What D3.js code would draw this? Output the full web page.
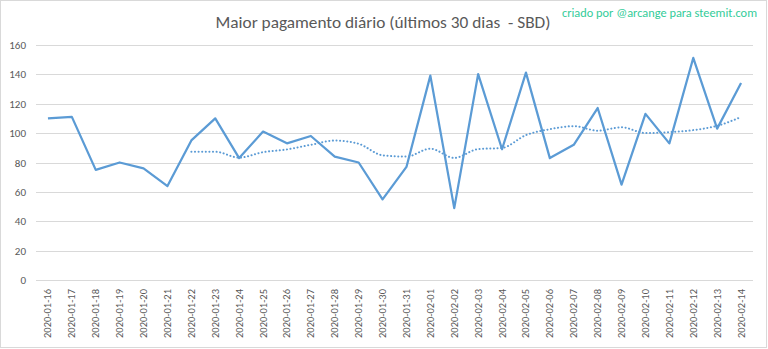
<!DOCTYPE html>
<html><head><meta charset="utf-8">
<script src="https://cdn.jsdelivr.net/npm/d3@7"></script>
<style>body{margin:0;background:#fff}svg{display:block}text{white-space:pre}</style>
</head><body>
<svg id="c" width="768" height="349"></svg>
<script>
const dates = ["2020-01-16","2020-01-17","2020-01-18","2020-01-19","2020-01-20","2020-01-21","2020-01-22","2020-01-23","2020-01-24","2020-01-25","2020-01-26","2020-01-27","2020-01-28","2020-01-29","2020-01-30","2020-01-31","2020-02-01","2020-02-02","2020-02-03","2020-02-04","2020-02-05","2020-02-06","2020-02-07","2020-02-08","2020-02-09","2020-02-10","2020-02-11","2020-02-12","2020-02-13","2020-02-14"];
const payments = [110,111,75,80,76,64,95,110,83,101,93,98,84,80,55,77,139,49,140,89,141,83,92,117,65,113,93,151,103,134];
const trend = [null,null,null,null,null,null,87.3,87.3,83.3,87.0,88.9,92.0,94.9,92.7,84.9,84.0,89.4,83.1,89.1,89.9,98.6,102.6,104.7,101.6,103.9,100.0,100.6,102.0,104.9,110.9];
const yTicks = [0,20,40,60,80,100,120,140,160];
const title = "Maior pagamento diário (últimos 30 dias  - SBD)";
const credit = "criado por @arcange para steemit.com";

const svg = d3.select("#c");
const font = "Carlito, Calibri, 'Open Sans', sans-serif";
svg.append("rect").attr("x",0.5).attr("y",0.5).attr("width",766).attr("height",347)
  .attr("fill","#fff").attr("stroke","#D9D9D9");

const L = 36, R = 753, T = 44.7, B = 280.3;
const x = d3.scaleBand().domain(dates).range([L,R]);
const y = d3.scaleLinear().domain([0,160]).range([B,T]);

svg.append("g").selectAll("line").data(yTicks).join("line")
  .attr("x1",L).attr("x2",R).attr("y1",d=>Math.round(y(d))+0.5).attr("y2",d=>Math.round(y(d))+0.5)
  .attr("stroke","#D9D9D9").attr("stroke-width",1);

svg.append("g").selectAll("text").data(yTicks).join("text")
  .attr("x",26).attr("y",d=>y(d)+4).attr("text-anchor","end")
  .attr("font-family",font).attr("font-size",11).attr("fill","#595959").text(d=>d);

svg.append("g").selectAll("text").data(dates).join("text")
  .attr("transform",d=>`translate(${x(d)+x.bandwidth()/2+3.5},289) rotate(-90)`)
  .attr("text-anchor","end").attr("font-family",font).attr("font-size",10.5)
  .attr("fill","#595959").text(d=>d);

const cx = d=>x(d)+x.bandwidth()/2;
const line = d3.line().x((d,i)=>cx(dates[i])).y(d=>y(d));
svg.append("path").attr("d",line(payments)).attr("fill","none")
  .attr("stroke","#5B9BD5").attr("stroke-width",2.25).attr("stroke-linejoin","round");

const tl = d3.line().defined(d=>d!=null).x((d,i)=>cx(dates[i])).y(d=>y(d)).curve(d3.curveMonotoneX);
svg.append("path").attr("d",tl(trend)).attr("fill","none")
  .attr("stroke","#5B9BD5").attr("stroke-width",2).attr("stroke-dasharray","0.1,3.5").attr("stroke-linecap","round");

svg.append("text").attr("x",383).attr("y",28).attr("text-anchor","middle")
  .attr("font-family",font).attr("font-size",17).attr("fill","#595959")
  .attr("textLength",335).attr("lengthAdjust","spacingAndGlyphs").text(title);
svg.append("text").attr("x",562).attr("y",17)
  .attr("font-family",font).attr("font-size",11.5).attr("fill","#33CC99")
  .attr("textLength",195).attr("lengthAdjust","spacingAndGlyphs").text(credit);
</script>
</body></html>
